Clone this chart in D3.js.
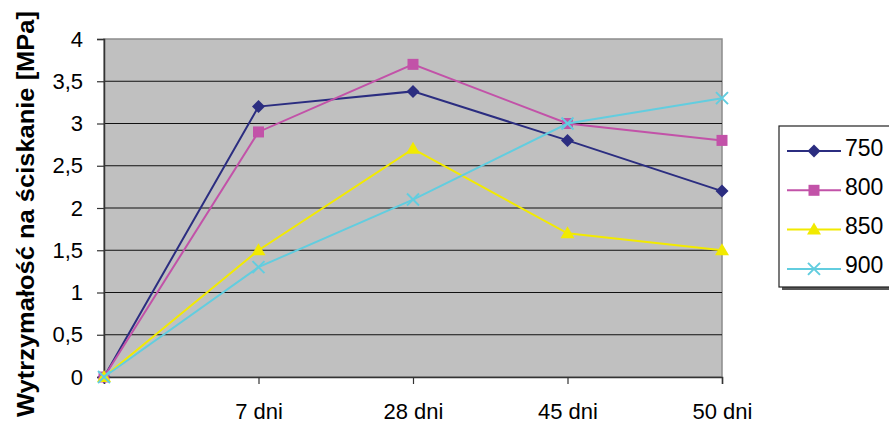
<!DOCTYPE html>
<html>
<head>
<meta charset="utf-8">
<script src="https://cdn.jsdelivr.net/npm/d3@7"></script>
<style>
  html, body { margin: 0; padding: 0; background: #fff; }
  svg { display: block; font-family: "Liberation Sans", Arial, sans-serif; }
</style>
</head>
<body>
<svg id="chart" width="889" height="424"></svg>
<script>
// Curing time categories (first is the origin point, unlabeled)
const categories = ["", "7 dni", "28 dni", "45 dni", "50 dni"];
const yTicks = [0, 0.5, 1, 1.5, 2, 2.5, 3, 3.5, 4];

// Compressive strength per firing temperature
const s750 = [0, 3.2, 3.38, 2.8, 2.2];
const s800 = [0, 2.9, 3.7, 3.0, 2.8];
const s850 = [0, 1.5, 2.7, 1.7, 1.5];
const s900 = [0, 1.3, 2.1, 3.0, 3.3];

const series = [
  { name: "750", values: s750, color: "#2b2d80", marker: "diamond" },
  { name: "800", values: s800, color: "#c252a8", marker: "square" },
  { name: "850", values: s850, color: "#f2ea00", marker: "triangle" },
  { name: "900", values: s900, color: "#62cddf", marker: "cross" }
];

const FONT = "Liberation Sans, Arial, sans-serif";
const svg = d3.select("#chart");
const plot = { left: 104, right: 722, top: 39, bottom: 377 };

const x = d3.scalePoint().domain(categories.map((c, i) => i)).range([plot.left, plot.right]);
const y = d3.scaleLinear().domain([0, 4]).range([plot.bottom, plot.top]);

// Plot area background
svg.append("rect")
  .attr("x", plot.left).attr("y", plot.top)
  .attr("width", plot.right - plot.left).attr("height", plot.bottom - plot.top)
  .attr("fill", "#c0c0c0").attr("stroke", "#8c8c8c").attr("stroke-width", 1.5);

// Horizontal gridlines
svg.append("g").selectAll("line")
  .data(yTicks.filter(t => t > 0 && t < 4))
  .join("line")
  .attr("x1", plot.left).attr("x2", plot.right)
  .attr("y1", d => y(d)).attr("y2", d => y(d))
  .attr("stroke", "#111").attr("stroke-width", 1);

// Y axis
const yAxis = svg.append("g")
  .attr("transform", `translate(${plot.left},0)`)
  .call(d3.axisLeft(y).tickValues(yTicks).tickSize(7).tickPadding(14)
    .tickFormat(d => String(d).replace(".", ",")));
yAxis.select(".domain").attr("stroke", "#333").attr("stroke-width", 1.5);
yAxis.selectAll(".tick line").attr("stroke", "#333").attr("stroke-width", 1.2);
yAxis.selectAll(".tick text").attr("font-size", 22).attr("fill", "#000")
  .attr("font-family", FONT);

// X axis
const xAxis = svg.append("g")
  .attr("transform", `translate(0,${plot.bottom})`)
  .call(d3.axisBottom(x).tickSize(7).tickPadding(19)
    .tickFormat(i => categories[i]));
xAxis.select(".domain").attr("stroke", "#333").attr("stroke-width", 1.5);
xAxis.selectAll(".tick line").attr("stroke", "#333").attr("stroke-width", 1.2);
xAxis.selectAll(".tick text").attr("font-size", 22).attr("fill", "#000")
  .attr("font-family", FONT);

// Y axis title
svg.append("text")
  .attr("transform", `translate(34,214) rotate(-90)`)
  .attr("text-anchor", "middle")
  .attr("font-family", FONT)
  .attr("font-size", 24).attr("font-weight", "bold")
  .attr("textLength", 406).attr("lengthAdjust", "spacingAndGlyphs")
  .text("Wytrzymałość na ściskanie [MPa]");

// Marker shapes
function drawMarker(g, type, color, cx, cy) {
  if (type === "diamond") {
    g.append("path").attr("d", `M${cx},${cy - 6.5}L${cx + 6.5},${cy}L${cx},${cy + 6.5}L${cx - 6.5},${cy}Z`)
      .attr("fill", color);
  } else if (type === "square") {
    g.append("rect").attr("x", cx - 5.5).attr("y", cy - 5.5).attr("width", 11).attr("height", 11)
      .attr("fill", color);
  } else if (type === "triangle") {
    g.append("path").attr("d", `M${cx},${cy - 7}L${cx + 7},${cy + 5}L${cx - 7},${cy + 5}Z`)
      .attr("fill", color);
  } else {
    g.append("path").attr("d", `M${cx - 6},${cy - 6}L${cx + 6},${cy + 6}M${cx + 6},${cy - 6}L${cx - 6},${cy + 6}`)
      .attr("stroke", color).attr("stroke-width", 2).attr("fill", "none");
  }
}

const line = d3.line().x((d, i) => x(i)).y(d => y(d));

series.forEach(s => {
  const g = svg.append("g");
  g.append("path").datum(s.values)
    .attr("d", line).attr("fill", "none")
    .attr("stroke", s.color).attr("stroke-width", 2);
  s.values.forEach((v, i) => drawMarker(g, s.marker, s.color, x(i), y(v)));
});

// Legend
const lg = svg.append("g");
lg.append("rect").attr("x", 782).attr("y", 129).attr("width", 120).attr("height", 161).attr("fill", "#555");
lg.append("rect").attr("x", 779).attr("y", 126).attr("width", 120).attr("height", 161)
  .attr("fill", "#fff").attr("stroke", "#222").attr("stroke-width", 1.2);
series.forEach((s, i) => {
  const cy = 151 + i * 39.3;
  lg.append("line").attr("x1", 787).attr("x2", 841).attr("y1", cy).attr("y2", cy)
    .attr("stroke", s.color).attr("stroke-width", 2);
  drawMarker(lg, s.marker, s.color, 814, cy);
  lg.append("text").attr("x", 845).attr("y", cy + 4.5)
    .attr("font-family", FONT)
    .attr("font-size", 23).text(s.name);
});
</script>
</body>
</html>
